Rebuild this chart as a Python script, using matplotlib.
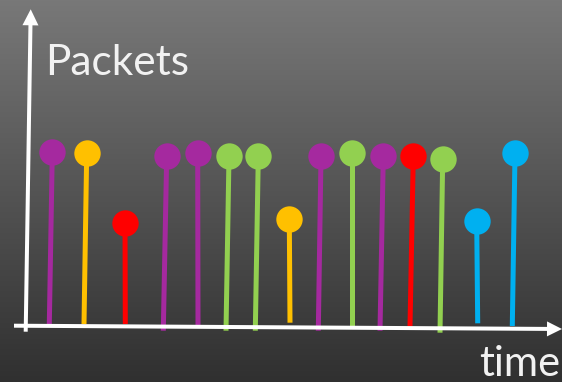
import numpy as np
import matplotlib
matplotlib.use("Agg")
import matplotlib.pyplot as plt

# Packet arrivals: where each stem's head sits, where its foot lands, and its colour
head_time = [52.3, 86.7, 125.0, 166.7, 197.7, 229.0, 258.3, 289.3, 321.0, 352.3,
             383.3, 413.3, 442.7, 476.7, 515.0]
foot_time = [49.3, 84.0, 125.3, 163.3, 198.0, 226.0, 255.3, 290.0, 318.3, 352.3,
             380.0, 410.0, 440.0, 477.7, 512.3]
packet_size = [174.3, 172.7, 102.7, 170.0, 172.7, 170.0, 170.3, 106.7, 170.0, 172.7,
               170.3, 170.3, 167.0, 105.0, 172.7]
foot_level = [1.7, 2.0, 2.0, -4.7, 1.0, -4.7, -4.7, 3.3, -4.7, 0.0,
              -4.7, 0.0, -6.7, 2.7, 0.0]
flow = ["purple", "orange", "red", "purple", "purple", "green", "green", "orange",
        "purple", "green", "purple", "red", "green", "blue", "blue"]

palette = {
    "purple": "#A5299F",
    "orange": "#FFC000",
    "red": "#FF0000",
    "green": "#92D050",
    "blue": "#00B0F0",
}

W, H = 562, 382
fig = plt.figure(figsize=(W / 100, H / 100), dpi=100)
ax = fig.add_axes([0, 0, 1, 1])
ax.set_xlim(0, W)
ax.set_ylim(-56, H - 56)
ax.axis("off")

# vertical grey gradient backdrop
shade = np.linspace(120, 48, 256)[:, None] / 255.0
grad = np.dstack([shade, shade, shade])
ax.imshow(grad, extent=[0, W, -56, H - 56], aspect="auto", zorder=0)

# stems and heads
for ht, ft, s, fl, f in zip(head_time, foot_time, packet_size, foot_level, flow):
    c = palette[f]
    ax.plot([ft, ht], [fl, s], color=c, lw=3.6, solid_capstyle="butt", zorder=3)
    ax.plot([ht], [s], marker="o", ms=19, color=c, mec="none", zorder=4)

# axes arrows
ax.arrow(25.7, -5.7, 5.0, 322.4, width=4, head_width=16, head_length=16,
         length_includes_head=True, color="white", lw=0, zorder=5)
ax.arrow(14, 0.3, 548, -3.3, width=4, head_width=15, head_length=15,
         length_includes_head=True, color="white", lw=0, zorder=5)

ax.text(45, 251, "Packets", color="#F2F2F2", fontsize=30.5, family="Lato",
        ha="left", va="baseline", zorder=6)
ax.text(479, -50, "time", color="#F2F2F2", fontsize=30, family="Lato",
        ha="left", va="baseline", zorder=6)

fig.savefig("out.png", dpi=100)
